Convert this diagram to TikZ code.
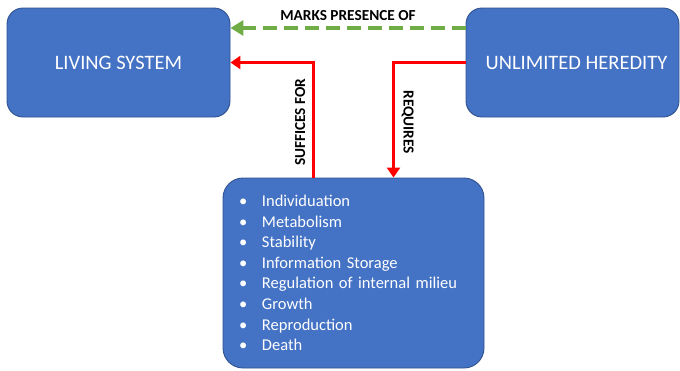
\documentclass[tikz,border=0pt]{standalone}
\usepackage{fontspec}
\setmainfont{Carlito}
\usetikzlibrary{arrows.meta}
\definecolor{boxblue}{HTML}{4472C4}
\definecolor{boxedge}{HTML}{2F528F}
\definecolor{markgreen}{HTML}{70AD47}
\tikzstyle{box}=[%
	draw = boxedge,
	fill = boxblue,
	line width = 0.9pt,
	rounded corners = 16pt,
	text = white,
	font = \fontsize{20.5}{24}\selectfont
]
\tikzstyle{link}=[red, line width=3.8pt, -{Triangle[length=10pt,width=13pt]}]
\tikzstyle{presence}=[markgreen, line width=3.8pt, dash pattern=on 14pt off 7pt, -{Triangle[length=13pt,width=15pt]}]
\tikzstyle{tag}=[text=black, font=\bfseries\fontsize{15.3}{18}\selectfont]
\newcommand{\trait}[1]{\makebox[24pt][l]{\hspace{1pt}\textbullet}#1}

\begin{document}
\begin{tikzpicture}[x=1pt, y=-1pt]
	% Frame
	\useasboundingbox (0,0) rectangle (680,370);

	% Boxes
	\node[box, minimum width=223pt, minimum height=109pt] (living) at (118.5,62.5) {LIVING SYSTEM};
	\node[box, minimum width=213pt, minimum height=109pt] (heredity) at (572.5,62.5) {\hspace*{8pt}UNLIMITED HEREDITY};
	\node[box, rounded corners=20pt, minimum width=261pt, minimum height=190pt,
		text width=231pt, align=left, font=\fontsize{16.5}{20.6}\selectfont] (traits) at (353.5,273) {%
		\trait{Individuation}\\
		\trait{Metabolism}\\
		\trait{Stability}\\
		\trait{Information Storage}\\
		\trait{Regulation of internal milieu}\\
		\trait{Growth}\\
		\trait{Reproduction}\\
		\trait{Death}};

	% Arrows
	\draw[presence] ([yshift=34.5pt]heredity.west) -- node[tag, above=2.5pt] (marklabel) {MARKS PRESENCE OF} ([yshift=34.5pt]living.east);
	\draw[link] ([xshift=-40pt]traits.north) |- node[tag, pos=0.24, rotate=90, above=3pt] (sufflabel) {SUFFICES FOR} (living.east);
	\draw[link] (heredity.west) -| node[tag, pos=0.76, rotate=-90, above=3pt] (reqlabel) {REQUIRES} ([xshift=40pt]traits.north);

\end{tikzpicture}
\end{document}
